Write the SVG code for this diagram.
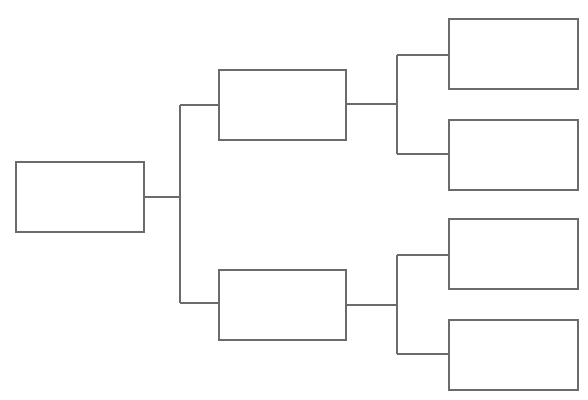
<svg xmlns="http://www.w3.org/2000/svg" width="588" height="400" viewBox="0 0 588 400">
<style>
.n{fill:#fff;stroke:#6b6b6b;stroke-width:2}
.c{fill:none;stroke:#6b6b6b;stroke-width:2}
</style>
<rect width="588" height="400" fill="#fff"/>
<g id="connectors" class="c">
<path d="M144,197H180M180,105V303M180,105H219M180,303H219"/>
<path d="M346,104H397M397,55V154M397,55H449M397,154H449"/>
<path d="M346,305H397M397,255V354M397,255H449M397,354H449"/>
</g>
<g id="root"><rect class="n" x="16" y="162" width="128" height="70"/></g>
<g id="mid-top"><rect class="n" x="219" y="70" width="127" height="70"/></g>
<g id="mid-bottom"><rect class="n" x="219" y="270" width="127" height="70"/></g>
<g id="leaf-1"><rect class="n" x="449" y="19" width="129" height="70"/></g>
<g id="leaf-2"><rect class="n" x="449" y="120" width="129" height="70"/></g>
<g id="leaf-3"><rect class="n" x="449" y="219" width="129" height="70"/></g>
<g id="leaf-4"><rect class="n" x="449" y="320" width="129" height="70"/></g>
</svg>
